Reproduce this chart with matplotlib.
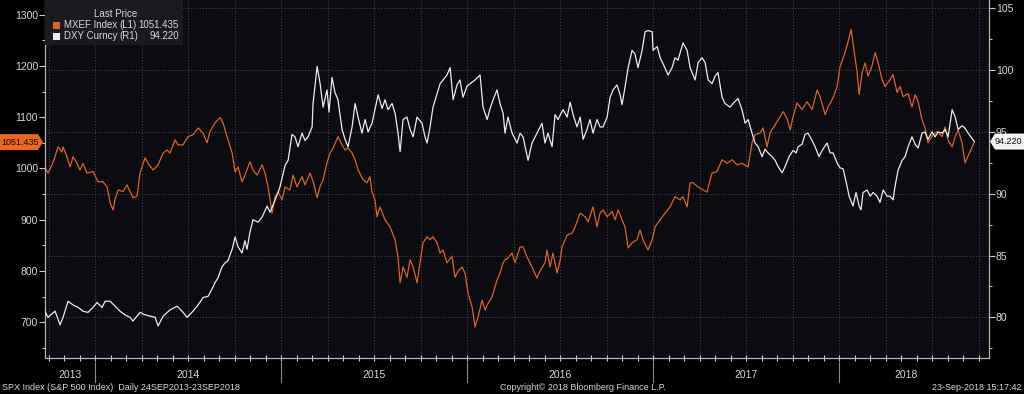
import matplotlib
matplotlib.use('Agg')
import matplotlib.pyplot as plt
from matplotlib.ticker import MultipleLocator, FixedLocator, NullFormatter
from matplotlib.patches import Polygon, Rectangle
from matplotlib.lines import Line2D
import matplotlib.transforms as mtransforms

# ---------------- data (decimal years, values) ----------------
mxef_t = [2013.731, 2013.747, 2013.774, 2013.801, 2013.823, 2013.828, 2013.849, 2013.866, 2013.882, 2013.903,
          2013.919, 2013.935, 2013.957, 2013.989, 2014.016, 2014.043, 2014.065, 2014.081, 2014.097, 2014.108,
          2014.124, 2014.151, 2014.172, 2014.188, 2014.204, 2014.226, 2014.242, 2014.269, 2014.285, 2014.312,
          2014.339, 2014.366, 2014.387, 2014.403, 2014.430, 2014.446, 2014.473, 2014.500, 2014.527, 2014.554,
          2014.581, 2014.602, 2014.618, 2014.645, 2014.672, 2014.688, 2014.710, 2014.737, 2014.753, 2014.769,
          2014.790, 2014.806, 2014.833, 2014.849, 2014.871, 2014.898, 2014.914, 2014.930, 2014.952, 2014.968,
          2014.984, 2015.005, 2015.022, 2015.048, 2015.065, 2015.086, 2015.113, 2015.129, 2015.156, 2015.172,
          2015.194, 2015.210, 2015.226, 2015.247, 2015.263, 2015.280, 2015.306, 2015.328, 2015.344, 2015.360,
          2015.382, 2015.398, 2015.414, 2015.441, 2015.462, 2015.478, 2015.489, 2015.505, 2015.516, 2015.532,
          2015.559, 2015.586, 2015.613, 2015.629, 2015.640, 2015.656, 2015.677, 2015.694, 2015.710, 2015.731,
          2015.747, 2015.763, 2015.785, 2015.801, 2015.817, 2015.839, 2015.855, 2015.871, 2015.892, 2015.919,
          2015.935, 2015.952, 2015.973, 2015.989, 2016.005, 2016.027, 2016.043, 2016.059, 2016.081, 2016.097,
          2016.113, 2016.134, 2016.161, 2016.177, 2016.194, 2016.204, 2016.220, 2016.242, 2016.258, 2016.285,
          2016.301, 2016.323, 2016.349, 2016.376, 2016.392, 2016.419, 2016.430, 2016.446, 2016.462, 2016.484,
          2016.500, 2016.511, 2016.538, 2016.565, 2016.581, 2016.608, 2016.634, 2016.651, 2016.677, 2016.699,
          2016.715, 2016.731, 2016.753, 2016.780, 2016.796, 2016.812, 2016.833, 2016.849, 2016.866, 2016.887,
          2016.914, 2016.930, 2016.946, 2016.973, 2016.995, 2017.011, 2017.038, 2017.065, 2017.091, 2017.118,
          2017.145, 2017.161, 2017.183, 2017.199, 2017.215, 2017.242, 2017.269, 2017.290, 2017.317, 2017.344,
          2017.371, 2017.398, 2017.425, 2017.452, 2017.478, 2017.511, 2017.532, 2017.548, 2017.575, 2017.591,
          2017.613, 2017.629, 2017.656, 2017.683, 2017.699, 2017.720, 2017.737, 2017.753, 2017.774, 2017.801,
          2017.828, 2017.855, 2017.882, 2017.898, 2017.925, 2017.941, 2017.968, 2017.989, 2018.005, 2018.032,
          2018.048, 2018.065, 2018.075, 2018.097, 2018.108, 2018.124, 2018.140, 2018.156, 2018.177, 2018.194,
          2018.210, 2018.231, 2018.247, 2018.274, 2018.290, 2018.312, 2018.328, 2018.344, 2018.371, 2018.392,
          2018.409, 2018.425, 2018.446, 2018.462, 2018.478, 2018.505, 2018.527, 2018.554, 2018.570, 2018.586,
          2018.608, 2018.624, 2018.640, 2018.661, 2018.677, 2018.694, 2018.727]
mxef_v = [1003, 991, 1011, 1042, 1032, 1042, 1023, 1003, 1023, 1010,
          997, 1010, 991, 994, 974, 974, 964, 933, 919, 940,
          958, 955, 968, 955, 943, 946, 991, 1021, 1010, 997,
          1007, 1030, 1036, 1030, 1056, 1046, 1046, 1062, 1066, 1079,
          1069, 1050, 1072, 1089, 1099, 1089, 1062, 1030, 993, 1003,
          974, 987, 1013, 997, 987, 1007, 991, 964, 913, 945,
          954, 939, 964, 958, 987, 964, 984, 968, 991, 975,
          943, 965, 978, 1011, 1030, 1040, 1062, 1046, 1036, 1040,
          1030, 1017, 997, 978, 972, 984, 954, 939, 906, 925,
          900, 886, 861, 827, 777, 808, 788, 822, 808, 777,
          816, 855, 867, 861, 867, 855, 835, 841, 816, 829,
          788, 800, 808, 796, 757, 730, 691, 710, 743, 724,
          737, 749, 782, 796, 816, 822, 825, 835, 816, 847,
          847, 827, 808, 786, 800, 816, 841, 808, 835, 796,
          820, 847, 870, 874, 886, 913, 906, 896, 925, 886,
          913, 919, 906, 916, 900, 919, 900, 886, 845, 855,
          861, 880, 861, 841, 861, 886, 900, 913, 925, 945,
          939, 945, 925, 972, 972, 964, 958, 954, 991, 994,
          1017, 1010, 1017, 1007, 1010, 1003, 1050, 1066, 1069, 1079,
          1042, 1070, 1085, 1101, 1111, 1098, 1075, 1101, 1128, 1115,
          1130, 1115, 1153, 1140, 1105, 1120, 1138, 1159, 1198, 1226,
          1247, 1271, 1245, 1187, 1144, 1187, 1206, 1180, 1200, 1226,
          1206, 1173, 1160, 1173, 1183, 1148, 1160, 1140, 1146, 1120,
          1144, 1130, 1095, 1079, 1050, 1066, 1072, 1062, 1081, 1055,
          1042, 1062, 1075, 1050, 1011, 1025, 1051.435]

dxy_t = [2013.731, 2013.747, 2013.785, 2013.812, 2013.828, 2013.855, 2013.882, 2013.909, 2013.935, 2013.962,
         2013.989, 2014.011, 2014.038, 2014.054, 2014.081, 2014.108, 2014.134, 2014.161, 2014.188, 2014.204,
         2014.242, 2014.269, 2014.296, 2014.323, 2014.339, 2014.366, 2014.403, 2014.441, 2014.468, 2014.495,
         2014.527, 2014.554, 2014.581, 2014.608, 2014.629, 2014.645, 2014.661, 2014.683, 2014.699, 2014.715,
         2014.737, 2014.753, 2014.769, 2014.790, 2014.806, 2014.817, 2014.833, 2014.849, 2014.876, 2014.898,
         2014.925, 2014.941, 2014.957, 2014.984, 2014.995, 2015.022, 2015.038, 2015.059, 2015.075, 2015.091,
         2015.113, 2015.129, 2015.145, 2015.167, 2015.172, 2015.194, 2015.210, 2015.226, 2015.247, 2015.258,
         2015.274, 2015.290, 2015.306, 2015.328, 2015.344, 2015.360, 2015.382, 2015.398, 2015.414, 2015.435,
         2015.452, 2015.468, 2015.489, 2015.505, 2015.522, 2015.543, 2015.559, 2015.575, 2015.597, 2015.613,
         2015.629, 2015.640, 2015.656, 2015.677, 2015.694, 2015.710, 2015.731, 2015.758, 2015.774, 2015.785,
         2015.801, 2015.817, 2015.839, 2015.855, 2015.871, 2015.892, 2015.909, 2015.925, 2015.946, 2015.962,
         2015.978, 2016.000, 2016.016, 2016.043, 2016.070, 2016.086, 2016.108, 2016.124, 2016.140, 2016.161,
         2016.177, 2016.194, 2016.204, 2016.220, 2016.242, 2016.269, 2016.285, 2016.301, 2016.328, 2016.349,
         2016.376, 2016.403, 2016.419, 2016.435, 2016.457, 2016.473, 2016.489, 2016.516, 2016.538, 2016.554,
         2016.570, 2016.591, 2016.608, 2016.624, 2016.645, 2016.661, 2016.677, 2016.699, 2016.715, 2016.731,
         2016.753, 2016.769, 2016.785, 2016.806, 2016.823, 2016.833, 2016.849, 2016.866, 2016.887, 2016.903,
         2016.919, 2016.941, 2016.957, 2016.973, 2016.995, 2017.000, 2017.022, 2017.038, 2017.054, 2017.081,
         2017.102, 2017.118, 2017.134, 2017.161, 2017.183, 2017.199, 2017.226, 2017.242, 2017.263, 2017.280,
         2017.296, 2017.317, 2017.333, 2017.349, 2017.371, 2017.387, 2017.414, 2017.430, 2017.457, 2017.478,
         2017.495, 2017.511, 2017.532, 2017.548, 2017.565, 2017.586, 2017.602, 2017.618, 2017.640, 2017.656,
         2017.672, 2017.694, 2017.710, 2017.731, 2017.753, 2017.769, 2017.780, 2017.801, 2017.817, 2017.833,
         2017.855, 2017.871, 2017.892, 2017.909, 2017.935, 2017.952, 2017.968, 2017.989, 2018.005, 2018.022,
         2018.043, 2018.054, 2018.075, 2018.091, 2018.108, 2018.118, 2018.129, 2018.151, 2018.167, 2018.183,
         2018.204, 2018.220, 2018.237, 2018.258, 2018.274, 2018.290, 2018.301, 2018.317, 2018.339, 2018.355,
         2018.371, 2018.392, 2018.409, 2018.425, 2018.446, 2018.462, 2018.478, 2018.500, 2018.516, 2018.532,
         2018.554, 2018.570, 2018.586, 2018.608, 2018.624, 2018.640, 2018.661, 2018.677, 2018.694, 2018.727]
dxy_v = [80.5, 80.0, 80.5, 79.4, 80.0, 81.3, 81.0, 80.8, 80.5, 80.4,
         80.8, 81.2, 80.8, 81.3, 81.3, 80.9, 80.5, 80.2, 80.0, 79.7,
         80.4, 80.2, 80.1, 80.0, 79.3, 80.1, 80.6, 80.9, 80.5, 80.0,
         80.5, 81.0, 81.6, 81.7, 82.3, 82.8, 83.2, 84.1, 84.4, 84.6,
         85.5, 86.5, 85.7, 85.2, 86.2, 85.5, 86.9, 87.9, 87.7, 88.1,
         89.0, 88.5, 89.1, 90.1, 90.6, 92.3, 92.7, 94.8, 94.6, 93.8,
         94.9, 94.3, 94.6, 95.4, 97.3, 100.3, 98.9, 97.0, 98.4, 96.6,
         99.4, 98.2, 97.6, 95.2, 94.4, 93.8, 95.4, 97.3, 96.2, 94.9,
         96.0, 95.0, 95.7, 96.8, 98.0, 96.9, 97.6, 96.8, 97.3, 96.5,
         94.9, 93.4, 96.0, 96.2, 95.2, 94.6, 96.2, 95.7, 94.6, 94.1,
         95.4, 97.0, 98.1, 98.9, 99.2, 99.6, 100.2, 97.6, 98.8, 99.2,
         97.8, 98.7, 98.9, 99.2, 99.6, 97.0, 96.0, 96.9, 97.6, 98.4,
         97.3, 96.5, 94.9, 96.2, 94.9, 94.1, 94.9, 94.6, 92.7, 94.1,
         94.9, 95.7, 94.1, 94.9, 93.8, 96.4, 96.0, 96.8, 96.2, 97.4,
         96.4, 95.4, 96.2, 94.4, 95.2, 96.0, 94.9, 96.0, 95.4, 95.4,
         96.2, 97.8, 98.4, 98.8, 98.0, 97.2, 98.6, 100.2, 101.6, 101.3,
         100.2, 101.6, 103.1, 103.2, 103.1, 101.6, 101.9, 101.0, 100.5, 99.6,
         100.2, 101.0, 100.8, 102.2, 101.6, 100.2, 99.2, 100.6, 101.0, 100.6,
         99.2, 98.9, 99.5, 99.8, 97.8, 97.3, 97.0, 97.3, 97.7, 96.8,
         95.7, 96.0, 94.9, 94.1, 93.8, 93.0, 93.6, 93.3, 93.0, 92.7,
         92.2, 91.7, 92.2, 93.0, 93.5, 93.3, 93.8, 94.0, 94.8, 94.9,
         94.3, 93.8, 93.0, 93.5, 94.1, 93.3, 93.3, 92.5, 92.1, 92.0,
         90.6, 89.8, 89.0, 90.1, 89.0, 88.7, 90.1, 90.3, 89.8, 90.1,
         89.8, 89.3, 90.3, 89.8, 89.8, 89.5, 90.6, 91.9, 92.7, 93.0,
         93.8, 94.6, 94.0, 93.7, 94.9, 95.0, 94.4, 95.0, 94.6, 95.0,
         94.9, 95.2, 94.6, 96.8, 96.2, 95.2, 95.5, 95.3, 94.9, 94.22]

mxef_name, dxy_name = "MXEF Index", "DXY Curncy"
mxef_last, dxy_last = 1051.435, 94.220
left_ticks = [700, 800, 900, 1000, 1100, 1200, 1300]
right_ticks = [80, 85, 90, 95, 100, 105]
year_labels = ["2013", "2014", "2015", "2016", "2017", "2018"]
year_starts = [2014, 2015, 2016, 2017, 2018]

# ---------------- layout / style ----------------
W, H = 1024, 394
ORANGE = '#d6652e'
WHITE = '#ececec'
TXT = '#d8d8d8'
FONT = ['Liberation Sans', 'DejaVu Sans']
plt.rcParams['font.family'] = FONT

fig = plt.figure(figsize=(W / 100, H / 100), dpi=100, facecolor='black')
ax = fig.add_axes([45 / W, 1 - 358 / H, 944 / W, 358 / H])
ax.set_facecolor('#0b0b10')
ax.set_xlim(2013.731, 2018.806)
ax.set_ylim(630.4, 1328.5)
ax2 = ax.twinx()
ax2.set_ylim(76.71, 105.67)

for a in (ax, ax2):
    for s in ('left', 'right', 'bottom'):
        a.spines[s].set_color('#b8b8b8')
        a.spines[s].set_linewidth(0.8)
    a.spines['top'].set_visible(False)

# orange series on left axis
ax.plot(mxef_t, mxef_v, color=ORANGE, lw=0.9, zorder=3)
# white series on right axis
ax2.plot(dxy_t, dxy_v, color=WHITE, lw=0.9, zorder=3)

# y axes
ax.yaxis.set_major_locator(FixedLocator(left_ticks))
ax.yaxis.set_minor_locator(MultipleLocator(50))
ax.tick_params(axis='y', which='major', direction='out', length=4, width=0.8,
               color='#cccccc', labelcolor=TXT, labelsize=7.5, pad=1)
ax.tick_params(axis='y', which='minor', direction='out', length=2.5, width=0.8, color='#cccccc')
ax2.yaxis.set_major_locator(FixedLocator(right_ticks))
ax2.yaxis.set_minor_locator(MultipleLocator(2.5))
ax2.tick_params(axis='y', which='major', direction='out', length=4, width=0.8,
                color='#cccccc', labelcolor=TXT, labelsize=7.5, pad=1)
ax2.tick_params(axis='y', which='minor', direction='out', length=2.5, width=0.8, color='#cccccc')

# x axis: quarterly grid, monthly ticks
ax.xaxis.set_major_locator(MultipleLocator(0.25))
ax.xaxis.set_minor_locator(MultipleLocator(1 / 12))
ax.xaxis.set_major_formatter(NullFormatter())
ax.tick_params(axis='x', which='both', direction='inout', length=4, width=0.8, color='#cccccc')
ax.grid(axis='x', which='major', color='#505058', linestyle=(0, (1, 2)), lw=0.7)
ax2.grid(axis='y', which='major', color='#505058', linestyle=(0, (1, 2)), lw=0.7)
ax.set_axisbelow(True)
ax2.set_axisbelow(True)

# year labels and dividers below the axis
xlo, xhi = ax.get_xlim()
bounds = [xlo] + year_starts + [xhi - 0.08]
blend = mtransforms.blended_transform_factory(ax.transData, fig.transFigure)
for i, lab in enumerate(year_labels):
    xm = (bounds[i] + bounds[i + 1]) / 2
    ax.text(xm, 1 - 375 / H, lab, transform=blend, ha='center', va='center',
            fontsize=7.5, color=TXT, clip_on=False)
for ys in year_starts:
    fig.add_artist(Line2D([ys, ys], [1 - 362 / H, 1 - 382 / H], transform=blend,
                          color='#8a8a8a', lw=0.8))

# footer
fy = 1 - 387 / H
fig.text(2 / W, fy, "SPX Index (S&P 500 Index)  Daily 24SEP2013-23SEP2018", fontsize=6.5,
         color=TXT, ha='left', va='center')
fig.text(500 / W, fy, "Copyright\u00a9 2018 Bloomberg Finance L.P.", fontsize=6.5,
         color=TXT, ha='left', va='center')
fig.text(1022 / W, fy, "23-Sep-2018 15:17:42", fontsize=6.5, color=TXT, ha='right', va='center')

# legend box
fig.add_artist(Rectangle((45 / W, 1 - 45 / H), 138 / W, 45 / H, transform=fig.transFigure,
                         facecolor='#1b1b1f', edgecolor='none', zorder=5))
fig.text(116 / W, 1 - 14 / H, "Last Price", fontsize=7, color=TXT, ha='center', va='center', zorder=6)
rows = [(mxef_name, "(L1)", f"{mxef_last:.3f}", ORANGE, 25),
        (dxy_name, "(R1)", f"{dxy_last:.3f}", WHITE, 36)]
for name, side, val, col, yy in rows:
    fig.add_artist(Rectangle((53 / W, 1 - (yy + 4) / H), 7 / W, 7 / H, transform=fig.transFigure,
                             facecolor=col, edgecolor='none', zorder=6))
    fig.text(64 / W, 1 - yy / H, name, fontsize=7, color=TXT, ha='left', va='center', zorder=6)
    fig.text(119 / W, 1 - yy / H, side, fontsize=7, color=TXT, ha='left', va='center', zorder=6)
    fig.text(179 / W, 1 - yy / H, val, fontsize=7, color=TXT, ha='right', va='center', zorder=6)

# last-value tags
yl = ax.transData.transform((xlo, mxef_last))[1] / H
yr = ax2.transData.transform((xlo, dxy_last))[1] / H
hh = 8 / H
fig.add_artist(Polygon([(0, yl - hh), (38 / W, yl - hh), (43 / W, yl), (38 / W, yl + hh), (0, yl + hh)],
                       closed=True, transform=fig.transFigure, facecolor='#e8681f', edgecolor='none', zorder=6))
fig.text(20 / W, yl, f"{mxef_last:.3f}", fontsize=6.5, color='#1a0a00', ha='center', va='center', zorder=7)
fig.add_artist(Polygon([(990 / W, yr), (995 / W, yr - hh), (1024 / W, yr - hh), (1024 / W, yr + hh), (995 / W, yr + hh)],
                       closed=True, transform=fig.transFigure, facecolor='#f2f2f2', edgecolor='none', zorder=6))
fig.text(1008 / W, yr, f"{dxy_last:.3f}", fontsize=6.5, color='#111111', ha='center', va='center', zorder=7)

fig.savefig('out.png', dpi=100, facecolor='black')
